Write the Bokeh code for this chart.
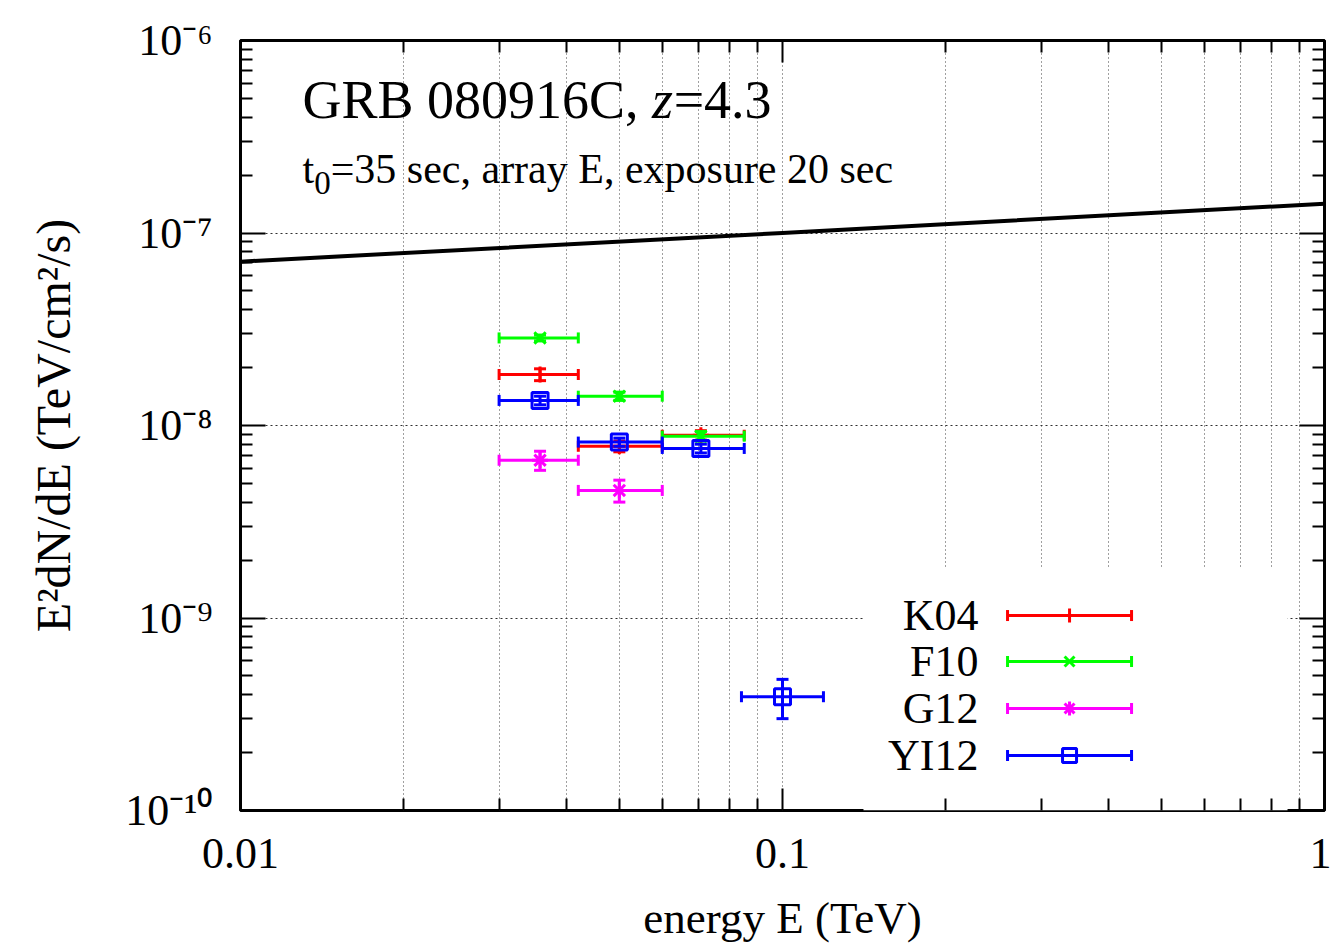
import math
from bokeh.plotting import figure
from bokeh.models import FixedTicker, LogAxis, Label, BoxAnnotation, CustomJSTickFormatter
from bokeh.embed import file_html
from bokeh.resources import INLINE

# ---------------- data ----------------
x_major = [0.01, 0.1, 1.0]
x_minor = [k * d for d in (0.01, 0.1) for k in range(2, 10)]
x_tick_labels = ["0.01", "0.1", "1"]
y_major = [1e-10, 1e-9, 1e-8, 1e-7, 1e-6]
y_minor = [k * d for d in (1e-10, 1e-9, 1e-8, 1e-7) for k in range(2, 10)]
y_tick_labels = ["10\u207b\u00b9\u2070", "10\u207b\u2079", "10\u207b\u2078",
                 "10\u207b\u2077", "10\u207b\u2076"]

model_E = [0.01, 0.1, 1.0]
model_F = [7.1e-8, 1.0e-7, 1.42e-7]

series_names = ["K04", "F10", "G12", "YI12"]
series_colors = ["#ff0000", "#00ff00", "#ff00ff", "#0000ff"]
series_markers = ["cross", "x", "asterisk", "square"]

k04_E = [0.0357, 0.050, 0.0707]
k04_Elo = [0.030, 0.042, 0.060]
k04_Ehi = [0.042, 0.060, 0.085]
k04_F = [1.84e-8, 7.8e-9, 8.9e-9]
k04_dF = [1.3e-9, 5e-10, 5e-10]

f10_E = [0.0357, 0.050, 0.0707]
f10_Elo = [0.030, 0.042, 0.060]
f10_Ehi = [0.042, 0.060, 0.085]
f10_F = [2.85e-8, 1.42e-8, 8.8e-9]
f10_dF = [1.0e-9, 7e-10, 5e-10]

g12_E = [0.0357, 0.050]
g12_Elo = [0.030, 0.042]
g12_Ehi = [0.042, 0.060]
g12_F = [6.6e-9, 4.6e-9]
g12_dF = [7.5e-10, 6e-10]

yi12_E = [0.0357, 0.050, 0.0707, 0.100]
yi12_Elo = [0.030, 0.042, 0.060, 0.084]
yi12_Ehi = [0.042, 0.060, 0.085, 0.119]
yi12_F = [1.35e-8, 8.2e-9, 7.6e-9, 3.9e-10]
yi12_dF = [7e-10, 4e-10, 4e-10, 9e-11]

title_main = "GRB 080916C, "
title_z = "z"
title_rest = "=4.3"
sub_t = "t"
sub_0 = "0"
sub_rest = "=35 sec, array E, exposure 20 sec"
x_label = "energy E (TeV)"
y_label = "E\u00b2dN/dE (TeV/cm\u00b2/s)"

# ---------------- layout ----------------
FL, FT, FW, FH = 240, 40, 1084, 770
FONT = "Liberation Serif"
lx0, lx1 = math.log10(x_major[0]), math.log10(x_major[-1])
ly0, ly1 = math.log10(y_major[0]), math.log10(y_major[-1])


def x_at(frac):
    return 10 ** (lx0 + frac * (lx1 - lx0))


def y_at(frac_from_top):
    return 10 ** (ly1 - frac_from_top * (ly1 - ly0))


p = figure(frame_width=FW, frame_height=FH, x_axis_type="log", y_axis_type="log",
           x_range=(x_major[0], x_major[-1]), y_range=(y_major[0], y_major[-1]),
           output_backend="svg", toolbar_location=None,
           min_border_left=FL, min_border_top=FT,
           min_border_right=7, min_border_bottom=139)
p.background_fill_color = "white"
p.border_fill_color = "white"
p.outline_line_color = "black"
p.outline_line_width = 3

xticker = FixedTicker(ticks=x_major, minor_ticks=x_minor)
yticker = FixedTicker(ticks=y_major, minor_ticks=y_minor)
lookup_code = """
const lt = Math.log10(tick);
for (let i = 0; i < vals.length; i++) {
  if (Math.abs(Math.log10(vals[i]) - lt) < 1e-6) { return labs[i]; }
}
return '';
"""
x_fmt = CustomJSTickFormatter(args=dict(vals=x_major, labs=x_tick_labels), code=lookup_code)
y_fmt = CustomJSTickFormatter(args=dict(vals=y_major, labs=y_tick_labels), code=lookup_code)
empty = CustomJSTickFormatter(code="return ''")

bottom_axis = p.below[0]
left_axis = p.left[0]
top_axis = LogAxis()
right_axis = LogAxis()
p.add_layout(top_axis, "above")
p.add_layout(right_axis, "right")

for ax, tk, major_len in ((bottom_axis, xticker, 22), (top_axis, xticker, 22),
                          (left_axis, yticker, 25), (right_axis, yticker, 25)):
    ax.ticker = tk
    ax.axis_line_color = None
    ax.major_tick_in = major_len
    ax.major_tick_out = 0
    ax.minor_tick_in = 12
    ax.minor_tick_out = 0
    ax.major_tick_line_width = 2
    ax.minor_tick_line_width = 2
    ax.major_tick_line_color = "black"
    ax.minor_tick_line_color = "black"
    ax.major_label_text_font = FONT
    ax.major_label_text_font_size = "44px"
    ax.major_label_text_color = "black"

top_axis.formatter = empty
right_axis.formatter = empty
top_axis.major_label_standoff = 0
right_axis.major_label_standoff = 0

bottom_axis.formatter = x_fmt
bottom_axis.major_label_standoff = 28
bottom_axis.axis_label = x_label
bottom_axis.axis_label_text_font = FONT
bottom_axis.axis_label_text_font_size = "45px"
bottom_axis.axis_label_text_font_style = "normal"
bottom_axis.axis_label_text_color = "black"
bottom_axis.axis_label_standoff = 22

left_axis.formatter = y_fmt
left_axis.major_label_standoff = 28
left_axis.axis_label = y_label
left_axis.axis_label_text_font = FONT
left_axis.axis_label_text_font_size = "48px"
left_axis.axis_label_text_font_style = "normal"
left_axis.axis_label_text_color = "black"
left_axis.axis_label_standoff = 42

p.xgrid.ticker = xticker
p.xgrid.grid_line_color = "#404040"
p.xgrid.grid_line_dash = "1 3"
p.xgrid.grid_line_width = 1
p.xgrid.minor_grid_line_color = "#404040"
p.xgrid.minor_grid_line_dash = "1 3"
p.xgrid.minor_grid_line_width = 1
p.ygrid.ticker = FixedTicker(ticks=y_major)
p.ygrid.grid_line_color = "#303030"
p.ygrid.grid_line_dash = "2 3"
p.ygrid.grid_line_width = 1

# legend background (covers grid)
legend_box = BoxAnnotation(left=x_at(0.5747), right=x_at(0.9659),
                           top=y_at(0.6844), bottom=y_at(1.0),
                           fill_color="white", fill_alpha=1.0, line_color=None,
                           level="underlay")
p.add_layout(legend_box)

# model line
p.line(model_E, model_F, line_color="black", line_width=4)


def draw_series(E, Elo, Ehi, F, dF, color, marker):
    lo = [f - d for f, d in zip(F, dF)]
    hi = [f + d for f, d in zip(F, dF)]
    p.segment(Elo, F, Ehi, F, line_color=color, line_width=3)
    p.scatter(Elo + Ehi, F + F, marker="dash", angle=math.pi / 2, size=11,
              line_color=color, line_width=3)
    p.segment(E, lo, E, hi, line_color=color, line_width=3)
    p.scatter(E + E, lo + hi, marker="dash", size=12, line_color=color, line_width=3)
    p.scatter(E, F, marker=marker, size=16,
              line_color=color, fill_color=None, line_width=3)


all_series = [
    (k04_E, k04_Elo, k04_Ehi, k04_F, k04_dF),
    (f10_E, f10_Elo, f10_Ehi, f10_F, f10_dF),
    (g12_E, g12_Elo, g12_Ehi, g12_F, g12_dF),
    (yi12_E, yi12_Elo, yi12_Ehi, yi12_F, yi12_dF),
]
for (E, Elo, Ehi, F, dF), c, m in zip(all_series, series_colors, series_markers):
    draw_series(E, Elo, Ehi, F, dF, c, m)

# legend samples
row_fracs = [0.7468, 0.8065, 0.8675, 0.9286]
sx0, sx1, sxm, tx = 0.7076, 0.8220, 0.7648, 0.6808
for name, c, m, rf in zip(series_names, series_colors, series_markers, row_fracs):
    yy = y_at(rf)
    p.segment([x_at(sx0)], [yy], [x_at(sx1)], [yy], line_color=c, line_width=3)
    p.scatter([x_at(sx0), x_at(sx1)], [yy, yy], marker="dash", angle=math.pi / 2,
              size=11, line_color=c, line_width=3)
    p.scatter([x_at(sxm)], [yy], marker=m, size=14,
              line_color=c, fill_color=None, line_width=3)
    p.add_layout(Label(x=x_at(tx), y=yy, text=name, text_font=FONT,
                       text_font_size="44px", text_align="right",
                       text_baseline="middle", y_offset=0, text_color="black"))

# titles (positions from top-left corner of frame)
TF = 54
w_main = TF * (0.722 + 0.667 + 0.667 + 0.25 + 6 * 0.5 + 0.667 + 0.25 + 0.25)
w_z = TF * 0.40
for txt, xo, style in ((title_main, 62, "normal"), (title_z, 62 + w_main, "italic"),
                       (title_rest, 62 + w_main + w_z, "normal")):
    p.add_layout(Label(x=x_major[0], y=y_major[-1], text=txt, text_font=FONT,
                       text_font_size=f"{TF}px", text_font_style=style,
                       text_align="left", text_baseline="middle",
                       x_offset=xo, y_offset=-59, text_color="black"))

SF = 42
p.add_layout(Label(x=x_major[0], y=y_major[-1], text=sub_t, text_font=FONT,
                   text_font_size=f"{SF}px", text_align="left", text_baseline="middle",
                   x_offset=62, y_offset=-128, text_color="black"))
p.add_layout(Label(x=x_major[0], y=y_major[-1], text=sub_0, text_font=FONT,
                   text_font_size="33px", text_align="left", text_baseline="middle",
                   x_offset=62 + SF * 0.278, y_offset=-142, text_color="black"))
p.add_layout(Label(x=x_major[0], y=y_major[-1], text=sub_rest, text_font=FONT,
                   text_font_size=f"{SF}px", text_align="left", text_baseline="middle",
                   x_offset=62 + SF * 0.278 + 33 * 0.5, y_offset=-128, text_color="black"))

open("out.html", "w").write(file_html(p, INLINE))
